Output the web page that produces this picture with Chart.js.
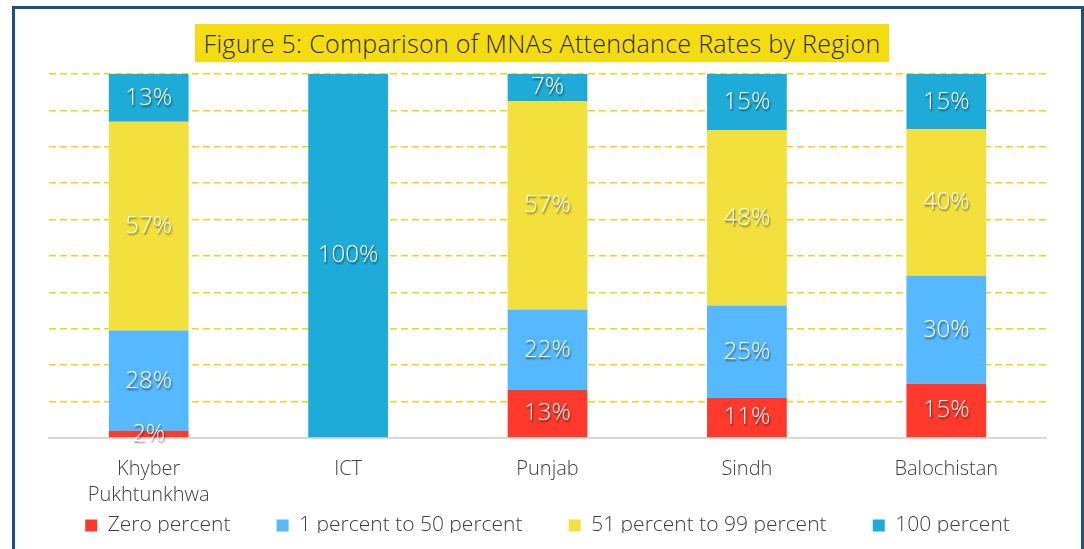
<!DOCTYPE html>
<html>
<head>
<meta charset="utf-8">
<script src="https://cdn.jsdelivr.net/npm/chart.js@4.4.0/dist/chart.umd.min.js"></script>
<style>
    body { margin: 0; background: #fff; }
    #frame { position: absolute; left: 12px; top: 6px; width: 1066px; height: 560px; border: 3px solid #1b5283; border-bottom: none; }
    #title { position: absolute; left: 195px; top: 24px; width: 694px; height: 38px; background: #f5dc10;
             font: 300 25px "Open Sans", sans-serif; color: #2b2b2b; text-align: center; line-height: 38px; letter-spacing: 0.3px; white-space: nowrap; }
    #wrap { position: absolute; left: 0; top: 0; width: 1084px; height: 549px; }
</style>
</head>
<body>
<div id="frame"></div>
<div id="wrap"><canvas id="bar_chart"></canvas></div>
<div id="title">Figure 5: Comparison of MNAs Attendance Rates by Region</div>
<script>
var regions = [["Khyber", "Pukhtunkhwa"], "ICT", "Punjab", "Sindh", "Balochistan"];
var zeroPercent = [1.9, 0, 13.2, 11.0, 14.9];
var oneTo50 = [27.6, 0, 22.1, 25.4, 29.7];
var fiftyOneTo99 = [57.4, 0, 57.3, 48.2, 40.2];
var hundredPercent = [13.1, 100, 7.4, 15.4, 15.2];
var seriesNames = ["Zero percent", "1 percent to 50 percent", "51 percent to 99 percent", "100 percent"];

//data labels drawn on top of each bar segment
var barLabels = {
    id: 'barLabels',
    afterDatasetsDraw: function (chart) {
        var ctx = chart.ctx;
        ctx.save();
        ctx.font = '300 24px "Open Sans", sans-serif';
        ctx.textAlign = 'center';
        ctx.textBaseline = 'middle';
        ctx.fillStyle = '#ffffff';
        ctx.shadowColor = 'rgba(0, 0, 0, 0.55)';
        ctx.shadowOffsetX = 1;
        ctx.shadowOffsetY = 2;
        ctx.shadowBlur = 2;
        chart.data.datasets.forEach(function (ds, i) {
            chart.getDatasetMeta(i).data.forEach(function (bar, j) {
                var v = ds.data[j];
                if (!v) return;
                var mid = (bar.y + bar.base) / 2;
                ctx.fillText(Math.round(v) + '%', bar.x, mid);
            });
        });
        ctx.restore();
    }
};

//legend overlaps the bottom of the x axis a little, so the plot gets taller
var legendOverlap = 13;
var legendShift = {
    id: 'legendShift',
    beforeInit: function (chart) {
        var fit = chart.legend.fit;
        chart.legend.fit = function () {
            fit.call(this);
            this.height -= legendOverlap;
        };
    },
    afterLayout: function (chart) {
        chart.legend.top -= legendOverlap - 2;
        chart.legend.bottom -= legendOverlap - 2;
    }
};

new Chart(document.getElementById("bar_chart").getContext("2d"), {
    type: 'bar',
    data: {
        labels: regions,
        datasets: [{
            label: seriesNames[0],
            data: zeroPercent,
            backgroundColor: '#ff3a2c'
        }, {
            label: seriesNames[1],
            data: oneTo50,
            backgroundColor: '#56b8ff'
        }, {
            label: seriesNames[2],
            data: fiftyOneTo99,
            backgroundColor: '#f4e03c'
        }, {
            label: seriesNames[3],
            data: hundredPercent,
            backgroundColor: '#1fabd8'
        }]
    },
    options: {
        responsive: true,
        maintainAspectRatio: false,
        animation: false,
        layout: { padding: { left: 49, right: 38, top: 74, bottom: 5 } },
        datasets: { bar: { categoryPercentage: 0.4, barPercentage: 1.0 } },
        scales: {
            x: {
                stacked: true,
                grid: { display: false },
                border: { display: true, color: '#d9d9d9', width: 2 },
                ticks: { color: '#404040', font: { family: 'Open Sans', size: 20, weight: 300, lineHeight: 1.3 }, padding: 10, maxRotation: 0 }
            },
            y: {
                stacked: true,
                min: 0,
                max: 100,
                ticks: { display: false, stepSize: 10 },
                border: { display: false, dash: [7, 4] },
                grid: { color: '#f2d410', lineWidth: 1.5, drawTicks: false }
            }
        },
        plugins: {
            legend: {
                position: 'bottom',
                labels: {
                    boxWidth: 12, boxHeight: 12, padding: 8, color: '#404040',
                    font: { family: 'Open Sans', size: 21, weight: 300 },
                    //extra room after each item, like the spacing in the original legend
                    generateLabels: function (chart) {
                        var items = Chart.defaults.plugins.legend.labels.generateLabels(chart);
                        items.forEach(function (it, i) {
                            if (i < items.length - 1) it.text = it.text + '\u00a0\u00a0\u00a0\u00a0\u00a0\u00a0\u00a0';
                        });
                        return items;
                    }
                }
            },
            tooltip: { enabled: false }
        }
    },
    plugins: [barLabels, legendShift]
});
</script>
</body>
</html>
